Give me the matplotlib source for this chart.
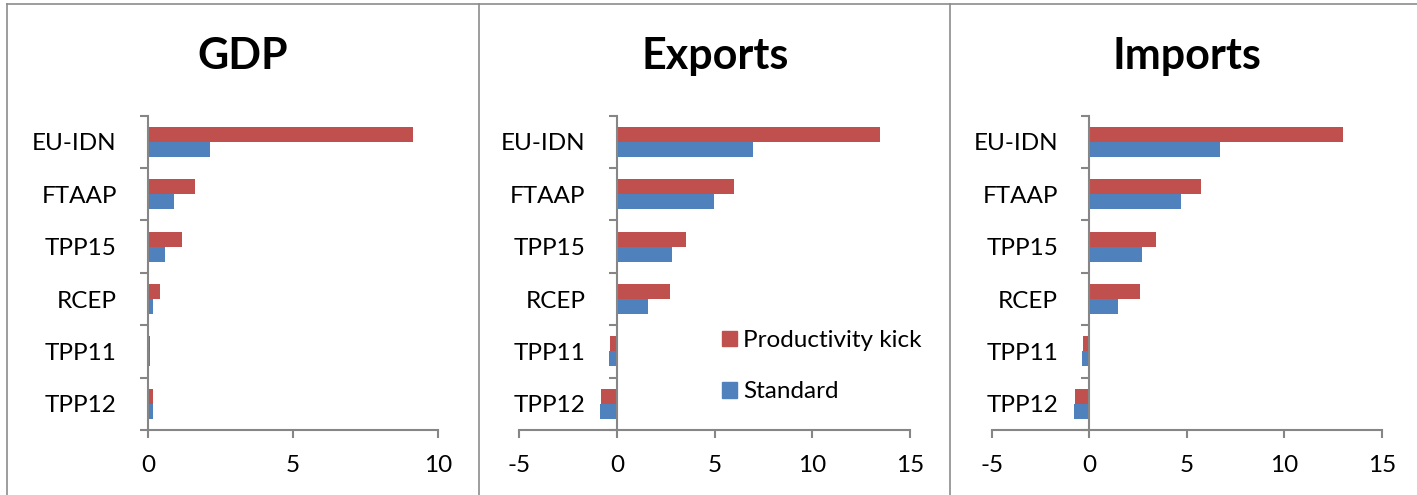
import matplotlib
matplotlib.use('Agg')
import matplotlib.pyplot as plt
import numpy as np
from matplotlib.patches import Patch
from matplotlib.lines import Line2D

plt.rcParams['font.family'] = ['Lato', 'DejaVu Sans']

deals = ['EU-IDN', 'FTAAP', 'TPP15', 'RCEP', 'TPP11', 'TPP12']
gdp_kick = [9.14, 1.61, 1.16, 0.40, 0.07, 0.16]
gdp_std = [2.14, 0.89, 0.59, 0.17, 0.08, 0.16]
exp_kick = [13.44, 5.98, 3.54, 2.72, -0.34, -0.80]
exp_std = [6.97, 4.96, 2.80, 1.57, -0.41, -0.85]
imp_kick = [13.02, 5.73, 3.41, 2.59, -0.31, -0.75]
imp_std = [6.69, 4.71, 2.70, 1.48, -0.36, -0.80]
series_names = ['Productivity kick', 'Standard']

RED = '#C0504D'
BLUE = '#4F81BD'
GREY = '#868686'
W, H = 1417, 495
FS = 17.5

fig = plt.figure(figsize=(W / 100, H / 100), dpi=100)

# panel title, data, x range, pixel left/right of plot area, panel centre
panels = [
    ('GDP', gdp_kick, gdp_std, (0, 10), [0, 5, 10], 148, 438, 243),
    ('Exports', exp_kick, exp_std, (-5, 15), [-5, 0, 5, 10, 15], 519.3, 910, 715),
    ('Imports', imp_kick, imp_std, (-5, 15), [-5, 0, 5, 10, 15], 991.7, 1382, 1187),
]

y = np.arange(len(deals))
bh = 0.286
top_px, bot_px = 115.7, 430

for title, kick, std, xlim, xt, x0, x1, cx in panels:
    ax = fig.add_axes([x0 / W, 1 - bot_px / H, (x1 - x0) / W, (bot_px - top_px) / H])
    ax.barh(y - bh / 2, kick, height=bh, color=RED)
    ax.barh(y + bh / 2, std, height=bh, color=BLUE)
    ax.set_xlim(*xlim)
    ax.set_ylim(len(deals) - 0.5, -0.5)
    ax.set_xticks(xt)
    ax.set_yticks(y)
    ax.set_yticklabels(deals)
    ax.set_yticks(np.arange(-0.5, len(deals)), minor=True)
    for s in ['top', 'right']:
        ax.spines[s].set_visible(False)
    ax.spines['left'].set_position(('data', 0))
    for s in ['left', 'bottom']:
        ax.spines[s].set_color(GREY)
        ax.spines[s].set_linewidth(1.5)
    ax.tick_params(axis='y', which='major', length=0, pad=22.5, labelsize=FS)
    ax.tick_params(axis='y', which='minor', length=5.8, width=1.5, color=GREY, direction='out')
    ax.tick_params(axis='x', length=5.8, width=1.5, color=GREY, direction='out', pad=12, labelsize=FS)
    ax.set_xticklabels([str(v) for v in xt])
    ax.patch.set_visible(False)
    fig.text(cx / W, 1 - 56 / H, title, ha='center', va='center', fontsize=31, fontweight='bold')

    if title == 'Exports':
        handles = [Patch(color=RED, label=series_names[0]), Patch(color=BLUE, label=series_names[1])]
        fig.legend(handles=handles, loc='upper left', bbox_to_anchor=(722 / W, 1 - 330 / H),
                   frameon=False, fontsize=FS, borderpad=0, borderaxespad=0,
                   handlelength=0.62, handleheight=0.62, handletextpad=0.25, labelspacing=1.25)

# panel frames
lc = '#8c8c8c'
for xp in [7, 479, 950]:
    fig.add_artist(Line2D([xp / W, xp / W], [0, 1 - 4 / H], transform=fig.transFigure, color=lc, lw=1.2))
fig.add_artist(Line2D([7 / W, 1], [1 - 4 / H, 1 - 4 / H], transform=fig.transFigure, color=lc, lw=1.2))

fig.savefig('out.png', dpi=100)
